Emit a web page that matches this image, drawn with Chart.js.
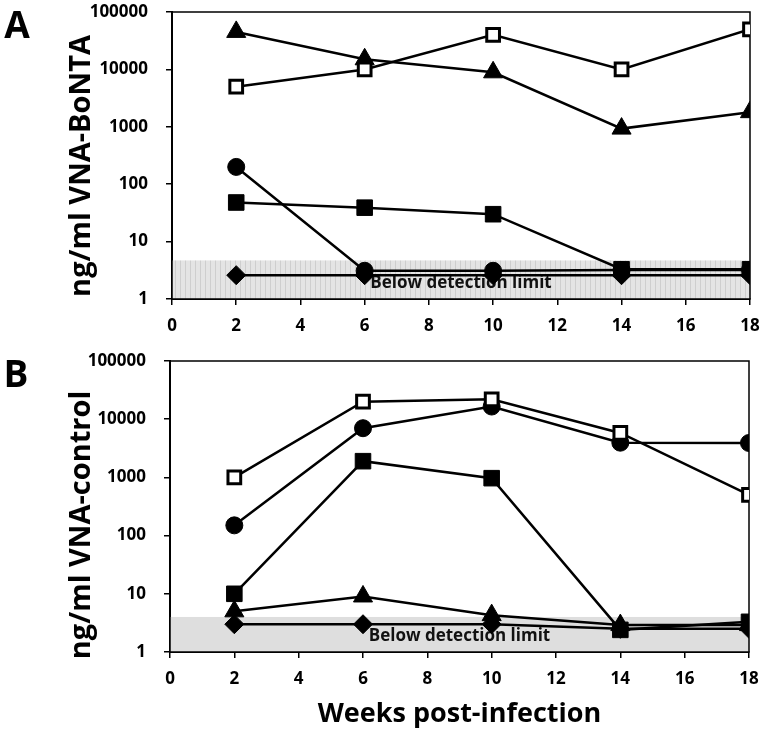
<!DOCTYPE html>
<html>
<head>
<meta charset="utf-8">
<script src="https://cdn.jsdelivr.net/npm/chart.js@4.4.0/dist/chart.umd.min.js"></script>
<style>
  body { margin: 0; background: #fff; }
  #wrap { position: relative; width: 762px; height: 734px; }
  canvas { position: absolute; left: 0; }
</style>
</head>
<body>
<div id="wrap">
  <canvas id="chartA" width="762" height="345" style="top:0"></canvas>
  <canvas id="chartB" width="762" height="389" style="top:345px"></canvas>
</div>
<script>
// weeks post-infection
const weeks = [2, 6, 10, 14, 18]
const yTicks = [1, 10, 100, 1000, 10000, 100000]

// Panel A: ng/ml VNA-BoNTA
const aOpenSquare = [5000, 10000, 40000, 10000, 50000]
const aSquare = [48, 39, 30, 3.3, 3.3]
const aCircle = [200, 3.1, 3.1, 3.2, 3.2]
const aTriangle = [45000, 15000, 8900, 930, 1800]
const aDiamond = [2.6, 2.6, 2.6, 2.6, 2.6]
const aLimit = 4.7

// Panel B: ng/ml VNA-control
const bOpenSquare = [1000, 20000, 22000, 5800, 500]
const bSquare = [10, 1900, 970, 2.4, 3.3]
const bCircle = [150, 7000, 16500, 3950, 3900]
const bTriangle = [5, 9, 4.3, 2.9, 2.9]
const bDiamond = [3, 3, 3, 2.5, 2.5]
const bLimit = 4.0

const FONT = '"Open Sans", "DejaVu Sans", sans-serif'

function pts(vals) {
  return vals.map((v, i) => ({ x: weeks[i], y: v }))
}

function hatch(ctx) {
  const c = document.createElement('canvas')
  c.width = 5; c.height = 4
  const g = c.getContext('2d')
  g.fillStyle = '#e4e4e4'
  g.fillRect(0, 0, 5, 4)
  g.fillStyle = '#cecece'
  g.fillRect(0, 0, 1, 4)
  return ctx.createPattern(c, 'repeat')
}

const panelDecor = {
  id: 'panelDecor',
  beforeDatasetsDraw(chart, args, opts) {
    const { ctx, chartArea: a, scales } = chart
    const yLim = scales.y.getPixelForValue(opts.limit)
    ctx.save()
    ctx.fillStyle = opts.hatched ? hatch(ctx) : '#dedede'
    ctx.fillRect(a.left, yLim, a.right - a.left, a.bottom - yLim)
    ctx.fillStyle = '#111'
    ctx.font = 'bold 17px ' + FONT
    ctx.textAlign = 'center'
    ctx.textBaseline = 'middle'
    ctx.fillText('Below detection limit', (a.left + a.right) / 2, a.bottom - 16)
    ctx.strokeStyle = '#000'
    ctx.lineWidth = 1.5
    ctx.strokeRect(a.left, a.top, a.right - a.left, a.bottom - a.top)
    ctx.restore()
  },
  afterDraw(chart, args, opts) {
    const { ctx } = chart
    ctx.save()
    ctx.fillStyle = '#000'
    ctx.textAlign = 'center'
    ctx.textBaseline = 'middle'
    ctx.font = 'bold 37px ' + FONT
    ctx.fillText(opts.letter, opts.letterX, opts.letterY)
    ctx.save()
    ctx.translate(opts.titleX, opts.titleY)
    ctx.rotate(-Math.PI / 2)
    ctx.font = 'bold 29px ' + FONT
    ctx.fillText(opts.yTitle, 0, 0)
    ctx.restore()
    if (opts.xTitle) {
      ctx.font = 'bold 27px ' + FONT
      const a = chart.chartArea
      ctx.fillText(opts.xTitle, (a.left + a.right) / 2, opts.xTitleY)
    }
    ctx.restore()
  }
}

function series(vals, style, radius, fill, bw) {
  return {
    data: pts(vals),
    borderColor: '#000',
    borderWidth: 2.5,
    tension: 0,
    fill: false,
    pointStyle: style,
    pointRadius: radius,
    pointBackgroundColor: fill,
    pointBorderColor: '#000',
    pointBorderWidth: bw
  }
}

function makeChart(id, sets, axisW, axisH, pad, decor) {
  return new Chart(document.getElementById(id), {
    type: 'line',
    data: {
      datasets: [
        series(sets[0], 'rect', 9, '#fff', 3),
        series(sets[1], 'rect', 11, '#000', 1),
        series(sets[2], 'circle', 8.5, '#000', 1),
        series(sets[3], 'triangle', 11, '#000', 1),
        series(sets[4], 'rectRot', 9.5, '#000', 1)
      ]
    },
    options: {
      responsive: false,
      animation: false,
      events: [],
      layout: { padding: pad },
      plugins: {
        legend: { display: false },
        tooltip: { enabled: false },
        panelDecor: decor
      },
      scales: {
        x: {
          type: 'linear',
          min: 0,
          max: 18,
          grid: { drawOnChartArea: false, tickLength: 6, color: '#000', lineWidth: 1.5 },
          border: { color: '#000', width: 2 },
          ticks: { stepSize: 2, padding: 11, color: '#000', font: { family: FONT, size: 17, weight: 'bold' } },
          afterFit: s => { s.height = axisH; s.paddingLeft = 0; s.paddingRight = 0 }
        },
        y: {
          type: 'logarithmic',
          min: 1,
          max: 100000,
          grid: { drawOnChartArea: false, tickLength: 6, color: '#000', lineWidth: 1.5 },
          border: { color: '#000', width: 2 },
          afterBuildTicks: s => { s.ticks = yTicks.map(v => ({ value: v })) },
          ticks: {
            padding: 18,
            color: '#000',
            font: { family: FONT, size: 17, weight: 'bold' },
            callback: v => String(v)
          },
          afterFit: s => { s.width = axisW; s.paddingTop = 0; s.paddingBottom = 0 }
        }
      }
    },
    plugins: [panelDecor]
  })
}

makeChart('chartA', [aOpenSquare, aSquare, aCircle, aTriangle, aDiamond], 172, 46,
  { left: 0, top: 9, right: 12, bottom: 0 },
  { limit: aLimit, hatched: true, letter: 'A', letterX: 17, letterY: 27,
    yTitle: 'ng/ml VNA-BoNTA', titleX: 82, titleY: 166 })

makeChart('chartB', [bOpenSquare, bSquare, bCircle, bTriangle, bDiamond], 170, 82,
  { left: 0, top: 16, right: 13, bottom: 0 },
  { limit: bLimit, hatched: false, letter: 'B', letterX: 16, letterY: 31,
    yTitle: 'ng/ml VNA-control', titleX: 82, titleY: 180,
    xTitle: 'Weeks post-infection', xTitleY: 369 })
</script>
</body>
</html>
